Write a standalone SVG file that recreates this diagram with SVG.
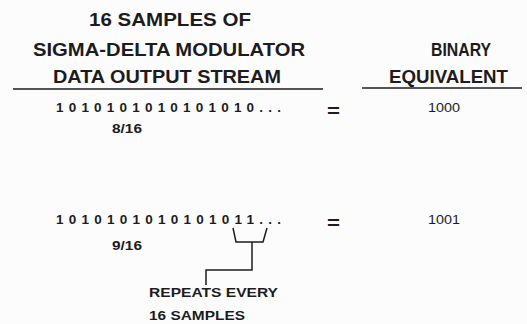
<svg xmlns="http://www.w3.org/2000/svg" width="527" height="324" viewBox="0 0 527 324">
  <style>
    text { font-family: "Liberation Sans", Arial, sans-serif; fill: #1c1c1c; }
    .h { font-size: 18.5px; font-weight: bold; }
    .seq { font-size: 13.5px; font-weight: bold; }
    .frac { font-size: 12.5px; font-weight: bold; }
    .bin { font-size: 12.5px; }
    .eq { font-size: 19px; font-weight: bold; }
    .lbl { font-size: 13.5px; font-weight: bold; }
    .rule { stroke: #1c1c1c; stroke-width: 1.3; fill: none; }
    .conn { stroke: #1c1c1c; stroke-width: 1.5; fill: none; }
  </style>
  <rect width="527" height="324" fill="#fcfcfd"/>

  <g id="heading-stream">
    <text class="h" x="89" y="26" textLength="162" lengthAdjust="spacingAndGlyphs">16 SAMPLES OF</text>
    <text class="h" x="33" y="55.5" textLength="272" lengthAdjust="spacingAndGlyphs">SIGMA-DELTA MODULATOR</text>
    <text class="h" x="53" y="83" textLength="228" lengthAdjust="spacingAndGlyphs">DATA OUTPUT STREAM</text>
    <line class="rule" x1="13" y1="89" x2="323" y2="89"/>
  </g>

  <g id="heading-binary">
    <text class="h" x="431" y="55.5" textLength="60" lengthAdjust="spacingAndGlyphs">BINARY</text>
    <text class="h" x="389" y="83" textLength="119" lengthAdjust="spacingAndGlyphs">EQUIVALENT</text>
    <line class="rule" x1="362" y1="88" x2="522" y2="88"/>
  </g>

  <g id="row1">
    <text class="seq" x="56" y="112" textLength="225" lengthAdjust="spacing">1010101010101010...</text>
    <text class="frac" x="112" y="133" textLength="30" lengthAdjust="spacingAndGlyphs">8/16</text>
    <text class="eq" x="327" y="117" textLength="13" lengthAdjust="spacingAndGlyphs">=</text>
    <text class="bin" x="428" y="112" textLength="32" lengthAdjust="spacingAndGlyphs">1000</text>
  </g>

  <g id="row2">
    <text class="seq" x="56" y="223.5" textLength="225" lengthAdjust="spacing">1010101010101011...</text>
    <text class="frac" x="112" y="250" textLength="30" lengthAdjust="spacingAndGlyphs">9/16</text>
    <text class="eq" x="327" y="229" textLength="13" lengthAdjust="spacingAndGlyphs">=</text>
    <text class="bin" x="428" y="224" textLength="32" lengthAdjust="spacingAndGlyphs">1001</text>
  </g>

  <g id="connectors">
    <polyline class="conn" points="233,228 236,242 263,242 267,228"/>
    <polyline class="conn" points="252,242 252,270 206,270 206,285"/>
  </g>

  <g id="label-repeats">
    <text class="lbl" x="149" y="297" textLength="129" lengthAdjust="spacingAndGlyphs">REPEATS EVERY</text>
    <text class="lbl" x="149" y="320" textLength="96" lengthAdjust="spacingAndGlyphs">16 SAMPLES</text>
  </g>
</svg>
